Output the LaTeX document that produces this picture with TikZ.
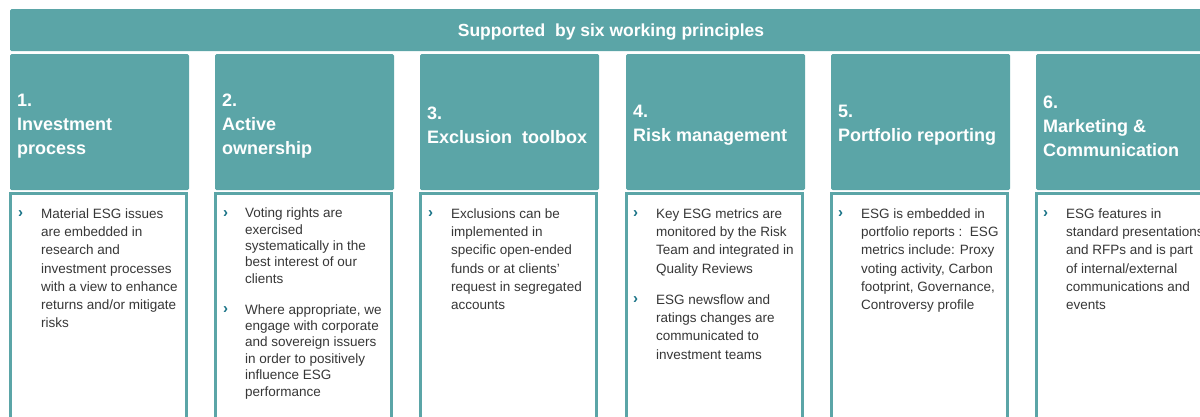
\documentclass[tikz,border=0pt]{standalone}
\usepackage{fontspec}
\setmainfont{Liberation Sans}
\definecolor{esgteal}{RGB}{91,165,167}
\definecolor{bulletteal}{RGB}{25,115,135}
\definecolor{bodygray}{RGB}{55,55,55}
\tikzset{
  headbox/.style={fill=esgteal, rounded corners=1.5pt},
  bodybox/.style={draw=esgteal, line width=3pt, fill=white},
  headtext/.style={text=white, font=\fontsize{18}{24}\selectfont\bfseries, align=left, anchor=west, inner sep=0pt},
  bodytext/.style={text=bodygray, font=\fontsize{13.5}{18.2}\selectfont, align=left, anchor=north west, inner sep=0pt},
  tighttext/.style={bodytext, font=\fontsize{13.5}{16.4}\selectfont},
  chev/.style={text=bulletteal, font=\fontsize{15}{18.2}\selectfont\bfseries, anchor=north west, inner sep=0pt},
}
\begin{document}
\begin{tikzpicture}[x=1pt,y=-1pt]
  \useasboundingbox (0,0) rectangle (1200,416);
  \clip (0,0) rectangle (1200,416);
  % banner
  \fill[headbox] (10,9) rectangle (1215,51);
  \node[text=white, font=\fontsize{17.5}{20}\selectfont\bfseries] (banner) at (611,32.5) {Supported\ \ by six working principles};
  % headers
  \fill[headbox] (10,54) rectangle (189,190);
  \fill[headbox] (215,54) rectangle (394,190);
  \fill[headbox] (420,54) rectangle (599,190);
  \fill[headbox] (626,54) rectangle (805,190);
  \fill[headbox] (831,54) rectangle (1010,190);
  \fill[headbox] (1036,54) rectangle (1215,190);
  \node[headtext] (head1) at (17,126.5) {1.\\Investment\\process};
  \node[headtext] (head2) at (222,126.5) {2.\\Active\\ownership};
  \node[headtext] (head3) at (427,125.5) {3.\\Exclusion\ \ toolbox};
  \node[headtext] (head4) at (633,125.5) {4.\\Risk management};
  \node[headtext] (head5) at (838,125.5) {5.\\Portfolio reporting};
  \node[headtext] (head6) at (1043,126) {6.\\Marketing \&\\Communication};
  % bodies
  \draw[bodybox] (10.5,193.5) rectangle (186.5,440);
  \draw[bodybox] (215.5,193.5) rectangle (391.5,440);
  \draw[bodybox] (420.5,193.5) rectangle (596.5,440);
  \draw[bodybox] (626.5,193.5) rectangle (802.5,440);
  \draw[bodybox] (831.5,193.5) rectangle (1007.5,440);
  \draw[bodybox] (1036.5,193.5) rectangle (1212.5,440);
  % column 1
  \node[chev] (b1) at (18,204.8) {\strut ›};
  \node[bodytext] (t1) at (41,205.5) {\strut Material ESG issues\\are embedded in\\research and\\investment processes\\with a view to enhance\\returns and/or mitigate\\risks};
  % column 2
  \node[chev] (b2a) at (223,204.8) {\strut ›};
  \node[tighttext] (t2a) at (245,206) {\strut Voting rights are\\exercised\\systematically in the\\best interest of our\\clients};
  \node[chev] (b2b) at (223,300.8) {\strut ›};
  \node[tighttext] (t2b) at (245,302.5) {\strut Where appropriate, we\\engage with corporate\\and sovereign issuers\\in order to positively\\influence ESG\\performance};
  % column 3
  \node[chev] (b3) at (428,204.8) {\strut ›};
  \node[bodytext] (t3) at (451,205.5) {\strut Exclusions can be\\implemented in\\specific open-ended\\funds or at clients’\\request in segregated\\accounts};
  % column 4
  \node[chev] (b4a) at (633,204.8) {\strut ›};
  \node[bodytext] (t4a) at (656,205.5) {\strut Key ESG metrics are\\monitored by the Risk\\Team and integrated in\\Quality Reviews};
  \node[chev] (b4b) at (633,290.8) {\strut ›};
  \node[bodytext] (t4b) at (656,291.5) {\strut ESG newsflow and\\ratings changes are\\communicated to\\investment teams};
  % column 5
  \node[chev] (b5) at (838,204.8) {\strut ›};
  \node[bodytext] (t5) at (861,205.5) {\strut ESG is embedded in\\portfolio reports :\ \ ESG\\metrics include: Proxy\\voting activity, Carbon\\footprint, Governance,\\Controversy profile};
  % column 6
  \node[chev] (b6) at (1043,204.8) {\strut ›};
  \node[bodytext] (t6) at (1066,205.5) {\strut ESG features in\\standard presentations\\and RFPs and is part\\of internal/external\\communications and\\events};
\end{tikzpicture}
\end{document}
